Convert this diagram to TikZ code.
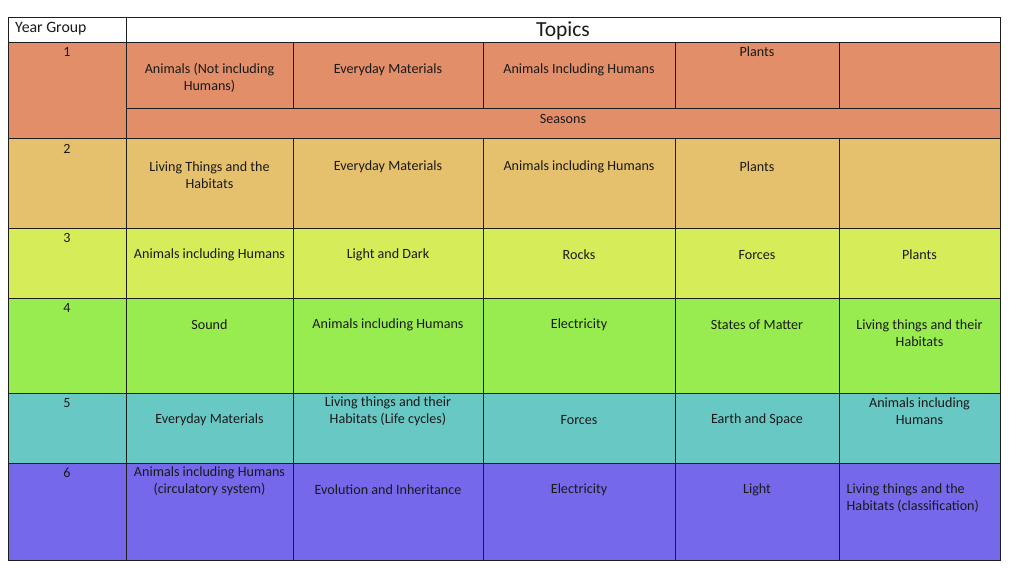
\documentclass[tikz,border=0pt]{standalone}
\usepackage{fontspec}
\setmainfont{Carlito}
\definecolor{rowA}{HTML}{E18E69}
\definecolor{rowB}{HTML}{E5C16D}
\definecolor{rowC}{HTML}{D6EC58}
\definecolor{rowD}{HTML}{99EC50}
\definecolor{rowE}{HTML}{68C8C4}
\definecolor{rowF}{HTML}{7568EA}
\definecolor{gridline}{HTML}{1E1E1E}
\definecolor{inktext}{HTML}{1A1A1A}
\begin{document}
\begin{tikzpicture}[x=1pt,y=-1pt,
  txt/.style={inner sep=0pt,align=center,text=inktext,font=\fontsize{14.1}{17}\selectfont},
  txtl/.style={txt,align=left,anchor=west},
  grid/.style={draw=gridline,line width=0.9pt},
  head/.style={inner sep=0pt,text=inktext}]
\useasboundingbox (0,0) rectangle (1024,588);
\fill[white] (0,0) rectangle (1024,588);
% row fills
\fill[rowA] (8,42) rectangle (1000,138);
\fill[rowB] (8,138) rectangle (1000,228);
\fill[rowC] (8,228) rectangle (1000,298);
\fill[rowD] (8,298) rectangle (1000,393);
\fill[rowE] (8,393) rectangle (1000,463);
\fill[rowF] (8,463) rectangle (1000,560);
% grid
\draw[grid] (8,17) rectangle (1000,560);
\draw[grid] (8,42) -- (1000,42);
\draw[grid] (126,108) -- (1000,108);
\foreach \yy in {138,228,298,393,463} \draw[grid] (8,\yy) -- (1000,\yy);
\draw[grid] (126,17) -- (126,560);
\foreach \xx in {293,483,675,839} {
  \draw[grid] (\xx,42) -- (\xx,108);
  \draw[grid] (\xx,138) -- (\xx,560);
}
% header
\node[head,anchor=west,font=\fontsize{15.8}{18}\selectfont] (yg) at (15,28.5) {Year Group};
\node[head,font=\fontsize{21.5}{24}\selectfont] (topics) at (563,31) {Topics};
% year numbers
\node[txt] (y1) at (67,52) {1};
\node[txt] (y2) at (67,149) {2};
\node[txt] (y3) at (67,238) {3};
\node[txt] (y4) at (67,308) {4};
\node[txt] (y5) at (67,403) {5};
\node[txt] (y6) at (67,473) {6};
% row 1
\node[txt] (a1) at (209.5,78) {Animals (Not including\\Humans)};
\node[txt] (a2) at (388,70) {Everyday Materials};
\node[txt] (a3) at (579,70) {Animals Including Humans};
\node[txt] (a4) at (757,52) {Plants};
\node[txt] (aS) at (563,119) {Seasons};
% row 2
\node[txt] (b1) at (209.5,175) {Living Things and the\\Habitats};
\node[txt] (b2) at (388,167) {Everyday Materials};
\node[txt] (b3) at (579,167) {Animals including Humans};
\node[txt] (b4) at (757,167) {Plants};
% row 3
\node[txt] (c1) at (209.5,255) {Animals including Humans};
\node[txt] (c2) at (388,255) {Light and Dark};
\node[txt] (c3) at (579,255) {Rocks};
\node[txt] (c4) at (757,255) {Forces};
\node[txt] (c5) at (919.5,255) {Plants};
% row 4
\node[txt] (d1) at (209.5,325) {Sound};
\node[txt] (d2) at (388,325) {Animals including Humans};
\node[txt] (d3) at (579,325) {Electricity};
\node[txt] (d4) at (757,325) {States of Matter};
\node[txt] (d5) at (919.5,333) {Living things and their\\Habitats};
% row 5
\node[txt] (e1) at (209.5,420) {Everyday Materials};
\node[txt] (e2) at (388,411) {Living things and their\\Habitats (Life cycles)};
\node[txt] (e3) at (579,420) {Forces};
\node[txt] (e4) at (757,420) {Earth and Space};
\node[txt] (e5) at (919.5,411) {Animals including\\Humans};
% row 6
\node[txt] (f1) at (209.5,481) {Animals including Humans\\(circulatory system)};
\node[txt] (f2) at (388,490) {Evolution and Inheritance};
\node[txt] (f3) at (579,490) {Electricity};
\node[txt] (f4) at (757,490) {Light};
\node[txtl] (f5) at (846.5,498) {Living things and the\\Habitats (classification)};
\end{tikzpicture}
\end{document}
